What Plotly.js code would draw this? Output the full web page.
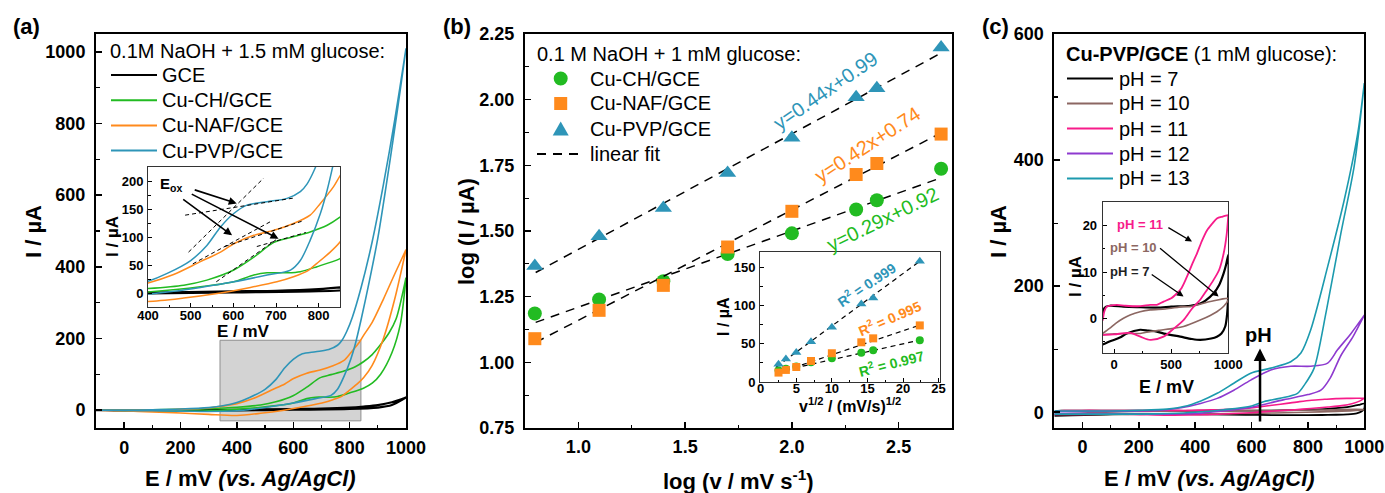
<!DOCTYPE html>
<html><head><meta charset="utf-8">
<script src="https://cdn.plot.ly/plotly-3.0.1.min.js"></script>
<style>html,body{margin:0;padding:0;background:#fff;}#chart{width:1385px;height:493px;}</style>
</head><body><div id="chart"></div>
<script>
// ================= DATA =================
// ---- (a) CVs, 0.1M NaOH + 1.5 mM glucose (E / mV, I / uA) ----
const gceE_f = [-100, 0, 200, 400, 600, 700, 800, 850, 900, 950, 1000];
const gceI_f = [0, 0, 0, 1, 3, 4, 7, 10, 14, 22, 35];
const gceE_r = [1000, 950, 900, 800, 600, 400, 200, 0, -100];
const gceI_r = [35, 14, 7, 3, 1, -1, -1, -1, 0];

const chE_f = [-100, 0, 100, 200, 300, 400, 523, 601, 648, 679, 726, 757, 796, 849, 880, 910, 950, 980, 1000];
const chI_f = [0, -1, -2, -3, -2, 2, 11, 20, 32, 36, 36, 38, 47, 61, 75, 100, 160, 240, 370];
const chE_r = [1000, 965, 940, 905, 880, 849, 820, 780, 734, 694, 648, 601, 538, 484, 400, 300, 200, 100, 0, -100];
const chI_r = [370, 255, 216, 178, 155, 135, 121, 109, 99, 90, 64, 41, 23, 14, 8, 4, 2, 1, 0, 0];

const nafE_f = [-100, 0, 100, 200, 300, 400, 484, 562, 640, 702, 741, 773, 796, 827, 850, 880, 920, 960, 1000];
const nafI_f = [0, -2, -5, -8, -12, -15, -9, -1, 10, 20, 29, 39, 53, 73, 91, 125, 200, 310, 448];
const nafE_r = [1000, 960, 920, 880, 849, 835, 804, 780, 741, 695, 648, 601, 570, 523, 460, 400, 350, 300, 200, 100, 0, -100];
const nafI_r = [448, 380, 310, 245, 208, 190, 160, 139, 124, 112, 103, 88, 73, 56, 33, 18, 11, 6, 2, 0, 0, 0];

const pvpE_f = [-100, 0, 100, 200, 300, 400, 460, 523, 601, 679, 734, 757, 780, 804, 820, 840, 870, 900, 940, 970, 1000];
const pvpI_f = [0, -1, -2, -3, -4, -2, 3, 10, 20, 32, 41, 58, 94, 142, 184, 250, 360, 480, 680, 840, 1010];
const pvpE_r = [1000, 960, 920, 880, 840, 810, 790, 773, 757, 726, 679, 632, 601, 570, 538, 500, 445, 400, 350, 300, 200, 100, 0, -100];
const pvpI_r = [1010, 810, 630, 470, 340, 260, 220, 195, 181, 169, 163, 157, 142, 118, 85, 58, 35, 21, 12, 7, 3, 1, 0, 0];

// tangent (dashed) segments in inset (a)
const tanE = [[495, 671], [487, 745], [505, 686], [580, 760], [560, 700], [655, 770]];
const tanI = [[73, 205], [139, 170], [52, 127], [83, 128], [20, 95], [83, 108]];
// zoom box of inset (a)
const boxE = [340, 840];
const boxI = [-30, 195];

// ---- (b) scan-rate study ----
const logV = [0.796, 1.097, 1.398, 1.699, 2.0, 2.301, 2.398, 2.699];
const logI_CH = [1.186, 1.239, 1.309, 1.412, 1.491, 1.582, 1.617, 1.737];
const logI_NAF = [1.090, 1.198, 1.293, 1.439, 1.575, 1.715, 1.757, 1.869];
const logI_PVP = [1.367, 1.480, 1.588, 1.721, 1.855, 2.009, 2.043, 2.199];
const fitSlope = [0.29, 0.42, 0.44];      // CH, NAF, PVP
const fitIntercept = [0.92, 0.74, 0.99];
const fitRange = [0.8, 2.7];
const fitLabels = ['y=0.29x+0.92', 'y=0.42x+0.74', 'y=0.44x+0.99'];

const sqrtV = [2.5, 3.54, 5, 7.07, 10, 14.14, 15.81, 22.36];
const I_CH = [15.3, 17.3, 20.4, 25.8, 31.0, 38.2, 41.4, 54.6];
const I_NAF = [12.3, 15.8, 19.6, 27.5, 37.6, 51.9, 57.1, 74.0];
const I_PVP = [23.3, 30.2, 38.7, 52.6, 71.6, 102, 110, 158];
const inFitSlope = [2.07, 3.14, 6.85];
const inFitIntercept = [8.5, 4.2, 4.8];
const inFitRange = [2.2, 22.4];
const r2Labels = ['R<sup>2</sup> = 0.997', 'R<sup>2</sup> = 0.995', 'R<sup>2</sup> = 0.999'];

// ---- (c) Cu-PVP/GCE, pH study ----
const p13E_f = [-100, 0, 100, 200, 300, 400, 500, 600, 645, 700, 763, 790, 822, 865, 917, 964, 1000];
const p13I_f = [-3, -3, -3, -3, -2, 0, 4, 10, 17, 22, 30, 45, 70, 160, 284, 390, 522];
const p13E_r = [1000, 977, 929, 870, 810, 775, 739, 668, 597, 537, 478, 420, 359, 300, 200, 100, 0, -100];
const p13I_r = [522, 443, 337, 231, 131, 94, 80, 70, 62, 46, 30, 18, 9, 5, 3, 2, 2, 2];

const p12E_f = [-100, 0, 200, 300, 400, 500, 600, 715, 800, 846, 880, 917, 960, 1000];
const p12I_f = [-3, -3, -3, -3, -2, 2, 8, 20, 28, 35, 55, 90, 120, 154];
const p12E_r = [1000, 953, 905, 870, 810, 739, 668, 597, 537, 478, 419, 350, 300, 200, 0, -100];
const p12I_r = [154, 125, 99, 78, 73, 73, 67, 51, 35, 22, 14, 7, 4, 2, 1, 1];

const p11E_f = [-100, 0, 140, 230, 316, 433, 520, 608, 680, 754, 810, 871, 920, 959, 985, 1000];
const p11I_f = [-3.6, -3.5, -3.2, -4.0, -4.7, -4.0, -2.3, -0.4, 2.0, 4.0, 6.0, 8.3, 10.5, 14.0, 18.0, 22.3];
const p11E_r = [1000, 950, 900, 860, 813, 770, 725, 680, 638, 590, 550, 500, 433, 374, 316, 228, 100, 23, -35, -65, -85, -100];
const p11I_r = [22.3, 22.0, 21.6, 20.5, 19.0, 16.8, 14.0, 11.5, 9.0, 6.5, 5.4, 4.3, 3.6, 2.9, 2.9, 2.6, 2.7, 2.9, 2.7, 2.5, 1.5, -0.5];

const p10E_f = [-100, 0, 100, 228, 316, 400, 520, 608, 754, 842, 900, 960, 1000];
const p10I_f = [-3.6, -3.4, -3.3, -3.3, -2.9, -2.6, -2.2, -1.8, -0.4, 0.6, 1.4, 2.6, 4.0];
const p10E_r = [1000, 842, 667, 608, 450, 316, 228, 140, 82, 20, -40, -100];
const p10I_r = [4.3, 3.6, 2.5, 2.5, 2.0, 1.8, 1.4, 0.7, 0.0, -1.0, -2.2, -3.3];

const p7E_f = [-100, -35, 50, 111, 228, 300, 374, 450, 579, 680, 754, 850, 900, 940, 973, 990, 1000];
const p7I_f = [-5.7, -5.0, -4.2, -3.3, -2.5, -2.7, -2.9, -3.4, -4.0, -4.5, -4.7, -4.4, -4.0, -3.3, -1.8, 1.0, 6.0];
const p7E_r = [1000, 980, 959, 920, 871, 800, 754, 667, 500, 374, 200, 82, -35, -70, -94, -100];
const p7I_r = [13.7, 11.5, 9.7, 7.2, 5.4, 3.8, 3.2, 2.7, 2.5, 2.3, 2.4, 2.5, 2.7, 2.5, 1.8, 0.0];

// ================= STYLE =================
const FONT = 'Arial, "Liberation Sans", sans-serif';
const C = {black: '#000000', green: '#22BB22', orange: '#FF8A1C', blue: '#2E95B8',
           teal: '#1C9AAE', purple: '#8E3ACF', pink: '#F71B8A', brown: '#8C6762'};
const W = 1385, H = 493;
const px = x => x / W, py = y => 1 - y / H;

const traces = [];
const cat = (a, b) => a.concat(b);
function cv(x, y, color, xa, ya, width) {
  traces.push({type: 'scatter', mode: 'lines', x: x, y: y, xaxis: xa, yaxis: ya, showlegend: false,
    hoverinfo: 'skip', line: {color: color, width: width || 1.6, shape: 'spline', smoothing: 0.8}});
}
// (a) main + inset
[['x', 'y', 1.6], ['x2', 'y2', 1.5]].forEach(([xa, ya, w]) => {
  cv(cat(gceE_f, gceE_r), cat(gceI_f, gceI_r), C.black, xa, ya, w + 0.6);
  cv(cat(chE_f, chE_r), cat(chI_f, chI_r), C.green, xa, ya, w);
  cv(cat(nafE_f, nafE_r), cat(nafI_f, nafI_r), C.orange, xa, ya, w);
  cv(cat(pvpE_f, pvpE_r), cat(pvpI_f, pvpI_r), C.blue, xa, ya, w);
});
tanE.forEach((e, i) => traces.push({type: 'scatter', mode: 'lines', x: e, y: tanI[i], xaxis: 'x2', yaxis: 'y2',
  showlegend: false, hoverinfo: 'skip', line: {color: '#000', width: 1, dash: '4px,3px'}}));

// (b)
const bSeries = [[logI_CH, C.green, 'circle', 14], [logI_NAF, C.orange, 'square', 13], [logI_PVP, C.blue, 'triangle-up', 15]];
const inSeries = [[I_CH, 8], [I_NAF, 8], [I_PVP, 9]];
bSeries.forEach(([ys, col, sym, sz], i) => {
  traces.push({type: 'scatter', mode: 'lines', x: fitRange, y: fitRange.map(v => fitSlope[i] * v + fitIntercept[i]),
    xaxis: 'x3', yaxis: 'y3', showlegend: false, hoverinfo: 'skip', line: {color: '#000', width: 1.5, dash: '9px,7px'}});
  traces.push({type: 'scatter', mode: 'markers', x: logV, y: ys, xaxis: 'x3', yaxis: 'y3', showlegend: false,
    marker: {symbol: sym, size: sz, color: col, line: {width: 0}}});
  traces.push({type: 'scatter', mode: 'lines', x: inFitRange, y: inFitRange.map(v => inFitSlope[i] * v + inFitIntercept[i]),
    xaxis: 'x4', yaxis: 'y4', showlegend: false, hoverinfo: 'skip', line: {color: '#000', width: 1.2, dash: '5px,4px'}});
  traces.push({type: 'scatter', mode: 'markers', x: sqrtV, y: inSeries[i][0], xaxis: 'x4', yaxis: 'y4', showlegend: false,
    marker: {symbol: sym, size: inSeries[i][1], color: col, line: {width: 0}}});
});

// (c)
cv(cat(p7E_f, p7E_r), cat(p7I_f, p7I_r), C.black, 'x5', 'y5', 1.8);
cv(cat(p10E_f, p10E_r), cat(p10I_f, p10I_r), C.brown, 'x5', 'y5', 1.6);
cv(cat(p11E_f, p11E_r), cat(p11I_f, p11I_r), C.pink, 'x5', 'y5', 1.6);
cv(cat(p12E_f, p12E_r), cat(p12I_f, p12I_r), C.purple, 'x5', 'y5', 1.6);
cv(cat(p13E_f, p13E_r), cat(p13I_f, p13I_r), C.teal, 'x5', 'y5', 1.6);
cv(cat(p7E_f, p7E_r), cat(p7I_f, p7I_r), C.black, 'x6', 'y6', 2.2);
cv(cat(p10E_f, p10E_r), cat(p10I_f, p10I_r), C.brown, 'x6', 'y6', 1.6);
cv(cat(p11E_f, p11E_r), cat(p11I_f, p11I_r), C.pink, 'x6', 'y6', 1.8);

// ================= AXES =================
function ax(o) {
  const main = !o.inset;
  return Object.assign({
    showline: true, linecolor: main ? '#000' : '#333', linewidth: main ? 2 : 1, mirror: true,
    ticks: 'inside', ticklen: main ? 6 : 4, tickwidth: main ? 1.5 : 1, tickcolor: '#000',
    showgrid: false, zeroline: false, fixedrange: true,
    tickfont: {family: FONT, size: main ? 18 : 13, color: '#000', weight: 'bold'},
    minor: {ticks: 'inside', ticklen: main ? 3.5 : 2.5, tickwidth: main ? 1.2 : 1, tickcolor: '#000', dtick: o.minor, showgrid: false}
  }, o.extra);
}
const yd = [py(428), py(34)];
const layout = {
  width: W, height: H, margin: {l: 0, r: 0, t: 0, b: 0},
  paper_bgcolor: '#fff', plot_bgcolor: '#fff', showlegend: false,
  font: {family: FONT, color: '#000'},
  xaxis: ax({minor: 100, extra: {domain: [px(96), px(406)], range: [-100, 1000], dtick: 200, tick0: 0, anchor: 'y', ticklabelstandoff: 2}}),
  yaxis: ax({minor: 100, extra: {domain: yd, range: [-50, 1050], dtick: 200, tick0: 0, anchor: 'x', ticklabelstandoff: 5}}),
  xaxis2: ax({inset: true, minor: 50, extra: {domain: [px(148), px(340)], range: [400, 850], dtick: 100, tick0: 0, anchor: 'y2', ticklabelstandoff: -4}}),
  yaxis2: ax({inset: true, minor: 25, extra: {domain: [py(307), py(167)], range: [-25, 225], dtick: 50, tick0: 0, anchor: 'x2', ticklabelstandoff: 1}}),
  xaxis3: ax({minor: 0.25, extra: {domain: [px(525), px(952)], range: [0.75, 2.75], dtick: 0.5, tick0: 0, tickformat: '.1f', anchor: 'y3', ticklabelstandoff: 1}}),
  yaxis3: ax({minor: 0.125, extra: {domain: yd, range: [0.75, 2.25], dtick: 0.25, tick0: 0, tickformat: '.2f', anchor: 'x3', ticklabelstandoff: 5}}),
  xaxis4: ax({inset: true, minor: 2.5, extra: {domain: [px(760), px(940)], range: [-0.1, 25.2], dtick: 5, tick0: 0, anchor: 'y4', ticklabelstandoff: -6}}),
  yaxis4: ax({inset: true, minor: 25, extra: {domain: [py(382), py(252)], range: [0, 170], dtick: 50, tick0: 0, anchor: 'x4', ticklabelstandoff: 1}}),
  xaxis5: ax({minor: 100, extra: {domain: [px(1054.3), px(1364.3)], range: [-100, 1000], dtick: 200, tick0: 0, anchor: 'y5', ticklabelstandoff: 1}}),
  yaxis5: ax({minor: 100, extra: {domain: yd, range: [-25, 600], dtick: 200, tick0: 0, anchor: 'x5', ticklabelstandoff: 5}}),
  xaxis6: ax({inset: true, minor: 250, extra: {domain: [px(1102.7), px(1228.3)], range: [-100, 1000], dtick: 500, tick0: 0, anchor: 'y6', ticklabelstandoff: -1}}),
  yaxis6: ax({inset: true, minor: 5, extra: {domain: [py(353.3), py(202.3)], range: [-7.6, 25.1], dtick: 10, tick0: 0, anchor: 'x6', ticklabelstandoff: 2}}),
  shapes: [], annotations: []
};

// grey zoom box in (a)
layout.shapes.push({type: 'rect', xref: 'x', yref: 'y', x0: boxE[0], x1: boxE[1], y0: boxI[0], y1: boxI[1],
  fillcolor: '#D3D3D3', line: {color: '#8F8F8F', width: 1}, layer: 'below'});

// ================= TEXT HELPERS =================
function txt(text, x, y, size, opt) {
  layout.annotations.push(Object.assign({text: text, xref: 'paper', yref: 'paper', x: px(x), y: py(y),
    xanchor: 'center', yanchor: 'middle', showarrow: false,
    font: {family: FONT, size: size, color: '#000'}}, opt || {}));
}
function hline(x0, x1, y, color, dash, width) {
  layout.shapes.push({type: 'line', xref: 'paper', yref: 'paper', x0: px(x0), x1: px(x1), y0: py(y), y1: py(y),
    line: {color: color, width: width || 2, dash: dash || 'solid'}});
}
function arrow(xa, ya, x, y, axv, ayv, width) {
  layout.annotations.push({text: '', xref: xa, yref: ya, axref: xa, ayref: ya, x: x, y: y, ax: axv, ay: ayv,
    showarrow: true, arrowhead: 2, arrowsize: 1, arrowwidth: width || 1.5, arrowcolor: '#000', standoff: 0, startstandoff: 0});
}

// panel labels
txt('<b>(a)</b>', 26, 27, 22);
txt('<b>(b)</b>', 457, 27, 22);
txt('<b>(c)</b>', 995, 26, 22);

// axis titles
txt('<b>E / mV <i>(vs. Ag/AgCl)</i></b>', 250.5, 478, 22);
txt('<b>I / \u00b5A</b>', 33, 232, 22, {textangle: -90});
txt('<b>log (v / mV s<sup>-1</sup>)</b>', 738, 480, 22);
txt('<b>log (I / \u00b5A)</b>', 466, 232, 22, {textangle: -90});
txt('<b>E / mV <i>(vs. Ag/AgCl)</i></b>', 1209, 478, 22);
txt('<b>I / \u00b5A</b>', 998, 232, 22, {textangle: -90});
// inset titles
txt('<b>E / mV</b>', 243, 331, 17);
txt('<b>I / \u00b5A</b>', 112, 237, 17, {textangle: -90});
txt('<b>v<sup>1/2</sup> / (mV/s)<sup>1/2</sup></b>', 850, 405, 16);
txt('<b>I / \u00b5A</b>', 723, 317, 16, {textangle: -90});
txt('<b>E / mV</b>', 1166, 387, 18);
txt('<b>I / \u00b5A</b>', 1075, 277, 17, {textangle: -90});

// legend (a)
txt('0.1M NaOH + 1.5 mM glucose:', 108, 51, 20, {xanchor: 'left'});
[['GCE', C.black], ['Cu-CH/GCE', C.green], ['Cu-NAF/GCE', C.orange], ['Cu-PVP/GCE', C.blue]].forEach(([t, c], i) => {
  const y = 75 + 25.2 * i;
  hline(111, 157, y, c, 'solid', 2);
  txt(t, 160, y, 20, {xanchor: 'left'});
});
// legend (b)
txt('0.1 M NaOH + 1 mM glucose:', 535, 53.5, 20, {xanchor: 'left'});
['Cu-CH/GCE', 'Cu-NAF/GCE', 'Cu-PVP/GCE'].forEach((t, i) => {
  const y = 78.5 + 25 * i, x = 560.7;
  if (i === 0) layout.shapes.push({type: 'circle', xref: 'paper', yref: 'paper', x0: px(x - 7), x1: px(x + 7), y0: py(y + 7), y1: py(y - 7), fillcolor: C.green, line: {width: 0}});
  if (i === 1) layout.shapes.push({type: 'rect', xref: 'paper', yref: 'paper', x0: px(x - 6.5), x1: px(x + 6.5), y0: py(y + 6.5), y1: py(y - 6.5), fillcolor: C.orange, line: {width: 0}});
  if (i === 2) layout.shapes.push({type: 'path', xref: 'paper', yref: 'paper',
    path: `M ${px(x - 8)},${py(y + 7)} L ${px(x + 8)},${py(y + 7)} L ${px(x)},${py(y - 7)} Z`, fillcolor: C.blue, line: {width: 0}});
  txt(t, 588, y, 20, {xanchor: 'left'});
});
hline(537, 585, 154, '#000', '9px,7px', 1.8);
txt('linear fit', 588, 154, 20, {xanchor: 'left'});
// legend (c)
txt('<b>Cu-PVP/GCE</b> (1 mM glucose):', 1064, 53.5, 20, {xanchor: 'left'});
[['pH = 7', C.black], ['pH = 10', C.brown], ['pH = 11', C.pink], ['pH = 12', C.purple], ['pH = 13', C.teal]].forEach(([t, c], i) => {
  const y = 78.5 + 25 * i;
  hline(1067, 1113, y, c, 'solid', 2);
  txt(t, 1117, y, 20, {xanchor: 'left'});
});

// (b) fit equations
const eqPos = [[883, 219, -26], [867, 145, -33], [825, 91, -34.5]];
const eqCol = [C.green, C.orange, C.blue];
fitLabels.forEach((t, i) => txt(t, eqPos[i][0], eqPos[i][1], 20, {textangle: eqPos[i][2], font: {family: FONT, size: 20, color: eqCol[i]}}));
// (b) inset R^2
const r2Pos = [[891, 363, -14.5], [889, 317.5, -23.5], [866.7, 284.2, -34]];
r2Labels.forEach((t, i) => txt('<b>' + t + '</b>', r2Pos[i][0], r2Pos[i][1], 14, {textangle: r2Pos[i][2], font: {family: FONT, size: 14, color: eqCol[i]}}));

// (a) inset E_ox and arrows
layout.annotations.push({text: '<b>E<sub>ox</sub></b>', xref: 'x2', yref: 'y2', x: 455, y: 193, showarrow: false,
  font: {family: FONT, size: 15, color: '#000'}});
arrow('x2', 'y2', 608, 160, 506, 185, 1.6);
arrow('x2', 'y2', 706, 97, 499, 178, 1.6);
arrow('x2', 'y2', 597, 103, 479, 169, 1.6);

// (c) inset labels and arrows
const cLab = [['pH = 11', C.pink, 228, 20.2, 462, 19.8, 682, 16.6], ['pH = 10', C.brown, 173, 15.4, 389, 15.4, 915, 4.7], ['pH = 7', '#222', 138, 10.1, 316, 9.7, 608, 4.7]];
cLab.forEach(([t, c, x, y, x0, y0, x1, y1]) => {
  layout.annotations.push({text: '<b>' + t + '</b>', xref: 'x6', yref: 'y6', x: x, y: y, showarrow: false,
    font: {family: FONT, size: 13, color: c}});
  arrow('x6', 'y6', x1, y1, x0, y0, 1.3);
});
// (c) pH arrow
arrow('x5', 'y5', 630, 101, 630, -17, 2.5);
layout.annotations.push({text: '<b>pH</b>', xref: 'x5', yref: 'y5', x: 626, y: 123, showarrow: false,
  font: {family: FONT, size: 20, color: '#000'}});

Plotly.newPlot('chart', traces, layout, {displayModeBar: false, staticPlot: true});
</script>
</body></html>
